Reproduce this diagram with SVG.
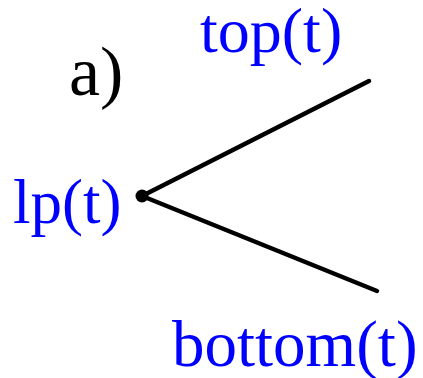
<svg xmlns="http://www.w3.org/2000/svg" width="423" height="378" viewBox="0 0 423 378">
<style>
.lbl{font-family:"Liberation Serif","Times New Roman",serif;fill:#0000ff;font-size:63px}
.edge{stroke:#000;stroke-width:4.5;stroke-linecap:round;fill:none}
</style>
<rect width="423" height="378" fill="#fff"/>
<g id="connectors">
<line class="edge" x1="142" y1="196" x2="369" y2="81"/>
<line class="edge" x1="142" y1="196" x2="377" y2="291"/>
</g>
<g id="node-lp">
<circle cx="142" cy="196" r="6.5" fill="#000"/>
<text class="lbl" x="13" y="223">lp(t)</text>
</g>
<g id="node-top"><text class="lbl" x="200" y="52" style="font-size:64px">top(t)</text></g>
<g id="node-bottom"><text class="lbl" x="172" y="366" style="font-size:65px">bottom(t)</text></g>
<g id="label-a"><text x="69" y="95" font-family="Liberation Serif,Times New Roman,serif" font-size="70" fill="#000">a)</text></g>
</svg>
